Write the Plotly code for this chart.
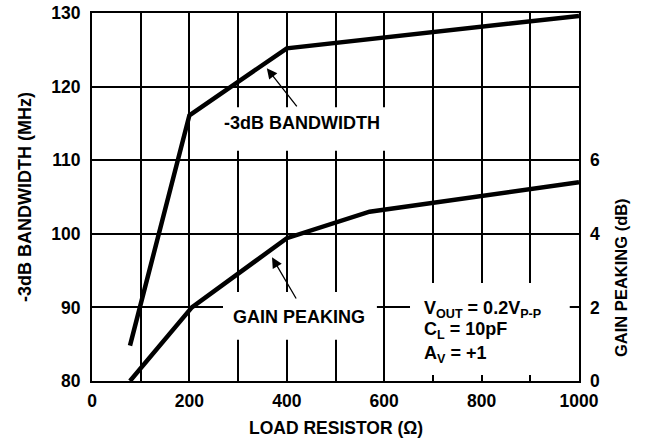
import plotly.graph_objects as go

# ---- data ----
r_bw = [78, 200, 400, 1000]            # load resistor (ohm)
bw_mhz = [84.8, 116.1, 125.2, 129.6]   # -3dB bandwidth (MHz)

r_gp = [78, 205, 400, 570, 1000]       # load resistor (ohm)
gp_db = [0.0, 2.0, 3.88, 4.6, 5.4]     # gain peaking (dB)

x_ticks = list(range(0, 1001, 100))
x_ticktext = ["<b>%d</b>" % v if v % 200 == 0 else "" for v in x_ticks]
y_ticks = [80, 90, 100, 110, 120, 130]
y2_ticks = [0, 2, 4, 6]

FONT = "Arial"

fig = go.Figure()
fig.add_trace(go.Scatter(x=r_bw, y=bw_mhz, mode="lines",
                         line=dict(color="black", width=4.5),
                         showlegend=False, yaxis="y"))
fig.add_trace(go.Scatter(x=r_gp, y=gp_db, mode="lines",
                         line=dict(color="black", width=4.5),
                         showlegend=False, yaxis="y2"))

# white boxes that interrupt the grid behind labels
for x0, x1, y0, y1 in [(246, 616, 111.3, 117.2),
                       (269, 585, 85.6, 92.1),
                       (653, 981, 80.8, 93.3)]:
    fig.add_shape(type="rect", xref="x", yref="y", x0=x0, x1=x1, y0=y0, y1=y1,
                  fillcolor="white", line=dict(width=0), layer="between")

tf = dict(family=FONT, size=17.5, color="black")
af = dict(family=FONT, size=18, color="black")

fig.add_annotation(x=431, y=115.0, xref="x", yref="y", text="<b>-3dB BANDWIDTH</b>",
                   showarrow=False, font=af)
fig.add_annotation(x=425, y=88.76, xref="x", yref="y", text="<b>GAIN PEAKING</b>",
                   showarrow=False, font=af)

# arrows
fig.add_annotation(x=359, y=122.5, ax=423, ay=117.1, xref="x", yref="y",
                   axref="x", ayref="y", text="", showarrow=True,
                   arrowhead=2, arrowsize=1.6, arrowwidth=1.3, arrowcolor="black",
                   standoff=0)
fig.add_annotation(x=369.6, y=96.8, ax=421, ay=91.0, xref="x", yref="y",
                   axref="x", ayref="y", text="", showarrow=True,
                   arrowhead=2, arrowsize=1.6, arrowwidth=1.3, arrowcolor="black",
                   standoff=0)

# conditions note
note_lines = ["<b>V<sub>OUT</sub> = 0.2V<sub>P-P</sub></b>",
              "<b>C<sub>L</sub> = 10pF</b>",
              "<b>A<sub>V</sub> = +1</b>"]
note_y = [89.75, 86.85, 83.6]
for txt, yy in zip(note_lines, note_y):
    fig.add_annotation(x=678, y=yy, xref="x", yref="y", text=txt,
                       showarrow=False, xanchor="left", font=af)

# axis titles
fig.add_annotation(x=-(92 - 25) / 487, y=0.5, xref="paper", yref="paper",
                   xanchor="center", yanchor="middle",
                   text="<b>-3dB BANDWIDTH (MHz)</b>", textangle=-90, showarrow=False,
                   font=dict(family=FONT, size=18, color="black"))
fig.add_annotation(x=1.0 + (621 - 579) / 487, y=2.8, xref="paper", yref="y2",
                   xanchor="center", yanchor="middle",
                   text="<b>GAIN PEAKING (dB)</b>", textangle=-90, showarrow=False,
                   font=dict(family=FONT, size=16.5, color="black"))
fig.add_annotation(x=0.5, y=-(428 - 381) / 368, xref="paper", yref="paper",
                   xanchor="center", yanchor="middle",
                   text="<b>LOAD RESISTOR (Ω)</b>", showarrow=False,
                   font=dict(family=FONT, size=17.5, color="black"))

fig.update_layout(
    width=648, height=442,
    margin=dict(l=92, r=69, t=13, b=61, autoexpand=False),
    paper_bgcolor="white", plot_bgcolor="white",
    font=dict(family=FONT, color="black"),
    xaxis=dict(range=[0, 1000], tickvals=x_ticks, ticktext=x_ticktext,
               showgrid=True, gridcolor="black", gridwidth=2,
               showline=True, linecolor="black", linewidth=2, mirror=True,
               zeroline=False, ticks="", tickfont=tf, automargin=False,
               ticklabelstandoff=3),
    yaxis=dict(range=[80, 130], tickvals=y_ticks,
               ticktext=["<b>%d</b>" % v for v in y_ticks],
               showgrid=True, gridcolor="black", gridwidth=2,
               showline=True, linecolor="black", linewidth=2, mirror=True,
               zeroline=False, ticks="", tickfont=tf, automargin=False,
               ticklabelstandoff=6),
    yaxis2=dict(range=[0, 10], tickvals=y2_ticks,
                ticktext=["<b>%d</b>" % v for v in y2_ticks],
                overlaying="y", side="right",
                showgrid=False, zeroline=False, showline=False, ticks="",
                tickfont=tf, automargin=False, ticklabelstandoff=10),
)

fig.write_html("out.html", config={"displayModeBar": False},
               post_script="document.body.style.margin='0';document.body.style.padding='0';")
